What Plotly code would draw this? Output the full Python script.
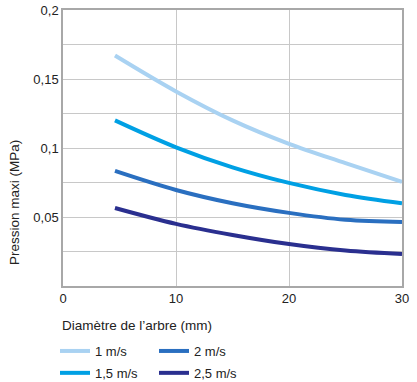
import plotly.graph_objects as go

diametre = [4.6, 10, 15, 20, 25, 30]
p_1 = [0.167, 0.141, 0.120, 0.103, 0.089, 0.0755]
p_15 = [0.120, 0.1005, 0.086, 0.0747, 0.066, 0.060]
p_2 = [0.0834, 0.0696, 0.060, 0.053, 0.048, 0.0464]
p_25 = [0.0565, 0.045, 0.037, 0.0304, 0.0257, 0.0232]

series_names = ["1 m/s", "1,5 m/s", "2 m/s", "2,5 m/s"]
series_values = [p_1, p_15, p_2, p_25]
colors = ["#a9d2f2", "#00a0e4", "#2a6fc0", "#2a2f8f"]
legends = ["legend", "legend", "legend2", "legend2"]

y_tickvals = [0, 0.025, 0.05, 0.075, 0.1, 0.125, 0.15, 0.175, 0.2]
y_ticktext = ["", "", "0,05", "", "0,1", "", "0,15", "", "0,2"]
x_tickvals = [0, 10, 20, 30]
x_ticktext = ["0", "10", "20", "30"]

FONT = "Liberation Sans, Arial, Helvetica, sans-serif"

W, H = 417, 382

fig = go.Figure()
for i, (name, vals, col, lg) in enumerate(zip(series_names, series_values, colors, legends)):
    fig.add_trace(go.Scatter(x=diametre, y=vals, name=name, mode="lines",
                             line=dict(color=col, width=4, shape="spline"),
                             legend=lg, legendgroup=f"g{i}"))

legend_common = dict(xanchor="left", yanchor="top", orientation="v",
                     font=dict(size=13), tracegroupgap=2, itemwidth=30,
                     bgcolor="rgba(0,0,0,0)", xref="container", yref="container")

fig.update_layout(
    width=W, height=H,
    margin=dict(l=63, r=15, t=10, b=96, autoexpand=False),
    paper_bgcolor="white", plot_bgcolor="white",
    font=dict(family=FONT, size=13, color="#222"),
    legend=dict(x=55 / W, y=1 - 336 / H, **legend_common),
    legend2=dict(x=154 / W, y=1 - 336 / H, **legend_common),
    xaxis=dict(range=[0, 30], tickvals=x_tickvals, ticktext=x_ticktext,
               showgrid=True, gridcolor="#c8c8c8", gridwidth=1,
               showline=True, linecolor="#a8a8a8", linewidth=1.5, mirror=True,
               ticks="", zeroline=False, tickfont=dict(size=13),
               ticklabeloverflow="allow"),
    yaxis=dict(range=[0, 0.2], tickvals=y_tickvals, ticktext=y_ticktext,
               showgrid=True, gridcolor="#c8c8c8", gridwidth=1,
               showline=True, linecolor="#a8a8a8", linewidth=1.5, mirror=True,
               ticks="", zeroline=False, tickfont=dict(size=13),
               ticklabeloverflow="allow"),
    annotations=[
        dict(text="Diamètre de l’arbre (mm)", xref="paper", yref="paper",
             x=(60 - 63) / 339, y=(286 - 325) / 276, xanchor="left", yanchor="middle",
             showarrow=False, font=dict(size=13.5)),
        dict(text="Pression maxi (MPa)", xref="paper", yref="paper",
             x=(14 - 63) / 339, y=(286 - 202) / 276, xanchor="center", yanchor="middle",
             textangle=-90, showarrow=False, font=dict(size=13.5)),
    ],
)

fig.write_html("out.html", config={"displayModeBar": False},
               post_script="document.body.style.margin='0';document.body.style.overflow='hidden';")
